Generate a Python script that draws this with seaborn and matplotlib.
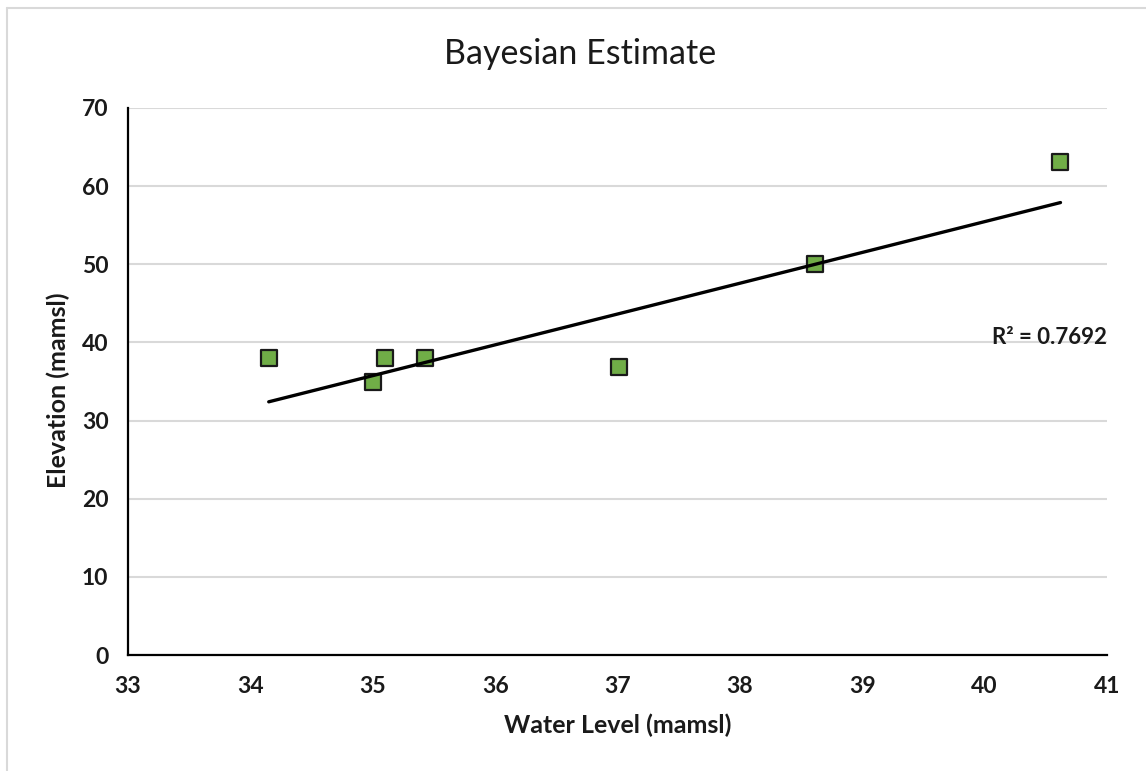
import matplotlib
matplotlib.use("Agg")
import matplotlib.pyplot as plt
import seaborn as sns
import pandas as pd
from matplotlib.lines import Line2D

# Data
water_level = [34.15, 35.00, 35.10, 35.43, 37.01, 38.61, 40.62]
elevation = [38.0, 35.0, 38.0, 38.0, 36.8, 50.0, 63.1]
trend_x = [34.15, 40.62]
trend_y = [32.4, 57.9]
r2_label = "R\u00b2 = 0.7692"
x_ticks = [33, 34, 35, 36, 37, 38, 39, 40, 41]
y_ticks = [0, 10, 20, 30, 40, 50, 60, 70]

sns.set_theme(style="white")
plt.rcParams['font.family'] = ['Lato', 'DejaVu Sans']

df = pd.DataFrame({"Water Level": water_level, "Elevation": elevation})

fig = plt.figure(figsize=(11.46, 7.71), dpi=100)
ax = fig.add_axes([128/1146, 1-655/771, (1107-128)/1146, (655-108)/771])

sns.scatterplot(data=df, x="Water Level", y="Elevation", ax=ax, marker='s',
                color='#70AD47', edgecolor='#1a1a1a', linewidth=1.6, s=125, zorder=3)
sns.lineplot(x=trend_x, y=trend_y, ax=ax, color='black', linewidth=2.4, zorder=4)

ax.set_xlim(x_ticks[0], x_ticks[-1])
ax.set_ylim(y_ticks[0], y_ticks[-1])
ax.set_xticks(x_ticks)
ax.set_yticks(y_ticks)
ax.set_xticklabels([str(t) for t in x_ticks], fontsize=16.5, fontweight='bold', color='#1a1a1a')
ax.set_yticklabels([str(t) for t in y_ticks], fontsize=16.5, fontweight='bold', color='#1a1a1a')
ax.tick_params(axis='x', length=0, pad=15)
ax.tick_params(axis='y', length=0, pad=14)

ax.grid(axis='y', color='#D9D9D9', linewidth=1.5)
ax.set_axisbelow(True)
for s in ['top', 'right']:
    ax.spines[s].set_visible(False)
for s in ['left', 'bottom']:
    ax.spines[s].set_color('black')
    ax.spines[s].set_linewidth(1.6)

ax.set_xlabel("Water Level (mamsl)", fontsize=18, fontweight='bold', color='#1a1a1a', va='center')
ax.set_ylabel("Elevation (mamsl)", fontsize=18, fontweight='bold', color='#1a1a1a', va='center')
ax.xaxis.set_label_coords(0.5, (655-725)/(655-108))
ax.yaxis.set_label_coords((58-128)/(1107-128), (655-390)/(655-108))

ax.text(1.0, (655-338)/(655-108), r2_label, transform=ax.transAxes, ha='right', va='center',
        fontsize=16, fontweight='bold', color='#1a1a1a')

fig.text(580/1146, 1-54/771, "Bayesian Estimate", ha='center', va='center', fontsize=24.5, color='#1a1a1a')

# chart-area border (top and left visible)
fig.add_artist(Line2D([7/1146, 7/1146], [0, 1-8/771], transform=fig.transFigure, color='#D9D9D9', linewidth=1.5))
fig.add_artist(Line2D([7/1146, 1], [1-8/771, 1-8/771], transform=fig.transFigure, color='#D9D9D9', linewidth=1.5))

fig.savefig("out.png", dpi=100, facecolor='white')
